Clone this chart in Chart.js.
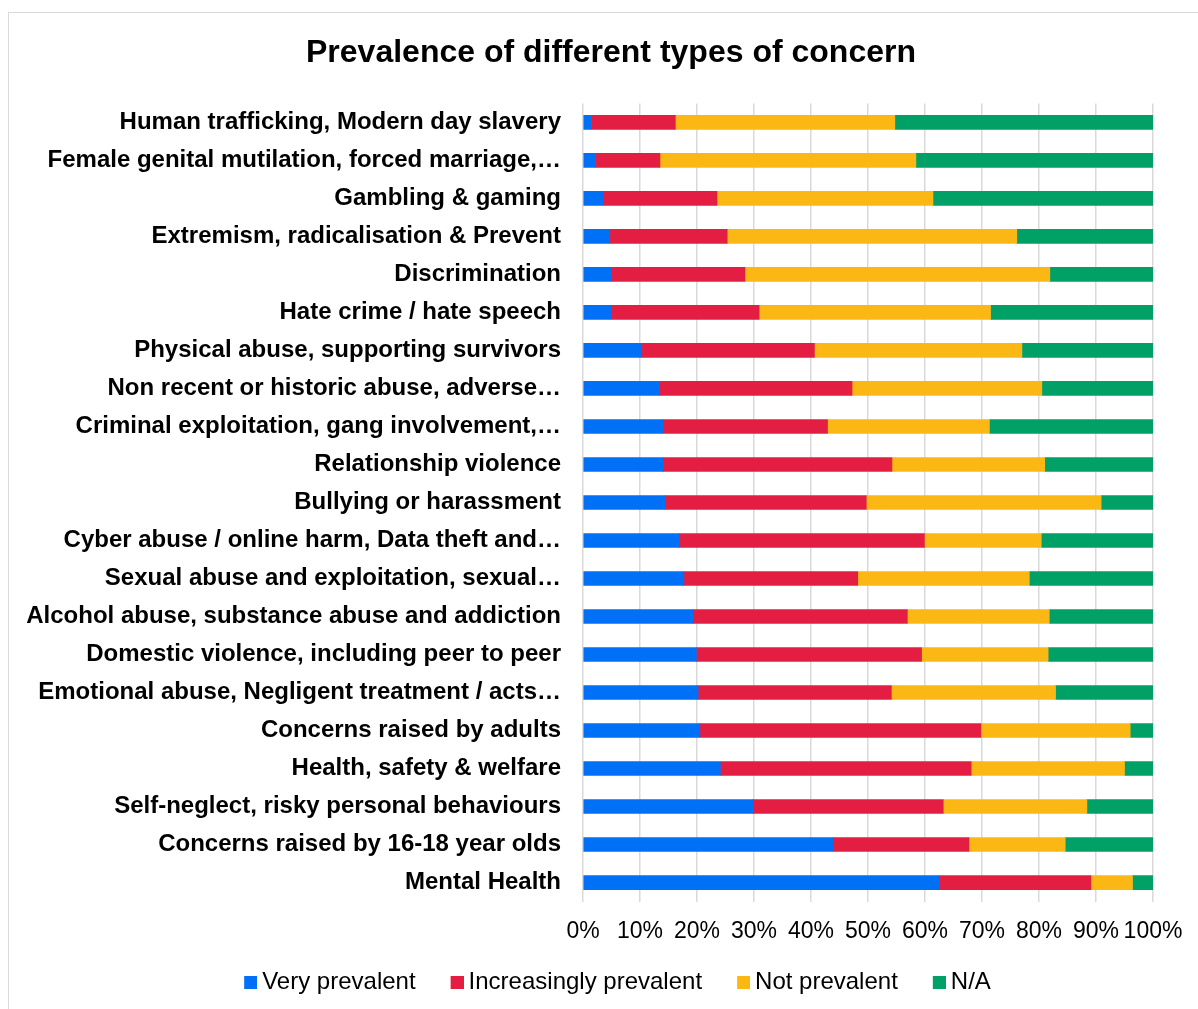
<!DOCTYPE html>
<html>
<head>
<meta charset="utf-8">
<title>Prevalence of different types of concern</title>
<script src="https://cdn.jsdelivr.net/npm/chart.js@4.4.0/dist/chart.umd.min.js"></script>
<style>
  html, body { margin: 0; padding: 0; background: #fff; overflow: hidden; }
  #wrap {
    position: absolute; left: 8px; top: 12px;
    width: 1204px; height: 1004px;
    border-left: 1px solid #d9d9d9; border-top: 1px solid #d9d9d9;
  }
</style>
</head>
<body>
<div id="wrap"><canvas id="concern-chart"></canvas></div>
<script>
// categories, top row first
const categories = [
  'Human trafficking, Modern day slavery',
  'Female genital mutilation, forced marriage,\u2026',
  'Gambling & gaming',
  'Extremism, radicalisation & Prevent',
  'Discrimination',
  'Hate crime / hate speech',
  'Physical abuse, supporting survivors',
  'Non recent or historic abuse, adverse\u2026',
  'Criminal exploitation, gang involvement,\u2026',
  'Relationship violence',
  'Bullying or harassment',
  'Cyber abuse / online harm, Data theft and\u2026',
  'Sexual abuse and exploitation, sexual\u2026',
  'Alcohol abuse, substance abuse and addiction',
  'Domestic violence, including peer to peer',
  'Emotional abuse, Negligent treatment / acts\u2026',
  'Concerns raised by adults',
  'Health, safety & welfare',
  'Self-neglect, risky personal behaviours',
  'Concerns raised by 16-18 year olds',
  'Mental Health'
];

// % of responses per category
const veryPrevalent =         [1.5, 2.2, 3.5, 4.7, 4.9, 4.9, 10.3, 13.4, 14.0, 14.1, 14.5, 16.9, 17.7, 19.3, 19.9, 20.2, 20.5, 24.1, 29.8, 43.9, 62.4];
const increasinglyPrevalent = [14.7, 11.3, 20.0, 20.6, 23.5, 26.0, 30.3, 33.8, 28.9, 40.1, 35.2, 43.0, 30.5, 37.6, 39.5, 33.9, 49.3, 44.0, 33.4, 23.8, 26.7];
const notPrevalent =          [38.5, 44.9, 37.9, 50.8, 53.5, 40.6, 36.4, 33.3, 28.4, 26.8, 41.2, 20.5, 30.1, 24.9, 22.2, 28.8, 26.2, 26.9, 25.2, 16.9, 7.3];
const notApplicable =         [45.3, 41.6, 38.6, 23.9, 18.1, 28.5, 23.0, 19.5, 28.7, 19.0, 9.1, 19.6, 21.7, 18.2, 18.4, 17.1, 4.0, 5.0, 11.6, 15.4, 3.6];

const seriesNames = ['Very prevalent', 'Increasingly prevalent', 'Not prevalent', 'N/A'];
const seriesColors = ['#0070f6', '#e41e43', '#fbb814', '#00a067'];
const seriesData = [veryPrevalent, increasinglyPrevalent, notPrevalent, notApplicable];

const FONT = '"Liberation Sans", Arial, sans-serif';

// legend marker: 13px square sitting at the right end of a wider transparent strip,
// so the strip acts as spacing between legend entries
const MARK_W = 33;
function legendMark(color) {
  const c = document.createElement('canvas');
  c.width = MARK_W + 14;
  c.height = 13;
  const ctx = c.getContext('2d');
  ctx.fillStyle = color;
  ctx.fillRect(c.width - 13, 0, 13, 13);
  return c;
}
const legendMarks = seriesColors.map(legendMark);

// pull the legend row a little to the left (the first strip adds blank space on its left)
const legendNudge = {
  id: 'legendNudge',
  afterLayout(chart) {
    chart.legend.left -= 7;
    chart.legend.right -= 7;
  }
};

const datasets = seriesNames.map((name, i) => ({
  label: name,
  data: seriesData[i],
  backgroundColor: seriesColors[i],
  borderWidth: 0,
  barThickness: 14
}));

new Chart(document.getElementById('concern-chart'), {
  type: 'bar',
  data: { labels: categories, datasets: datasets },
  plugins: [legendNudge],
  options: {
    indexAxis: 'y',
    responsive: true,
    maintainAspectRatio: false,
    animation: false,
    layout: { padding: { left: 0, right: 0, top: 0, bottom: 13 } },
    plugins: {
      title: {
        display: true,
        text: 'Prevalence of different types of concern',
        color: '#000',
        font: { family: FONT, size: 32, weight: 'bold' },
        padding: { top: 21, bottom: 31 }
      },
      legend: {
        position: 'bottom',
        labels: {
          color: '#000',
          font: { family: FONT, size: 24 },
          usePointStyle: true,
          pointStyleWidth: MARK_W,
          boxHeight: 13,
          padding: 8,
          generateLabels: chart =>
            Chart.defaults.plugins.legend.labels.generateLabels(chart)
              .map((item, i) => ({ ...item, pointStyle: legendMarks[i] }))
        }
      },
      tooltip: { enabled: false }
    },
    scales: {
      x: {
        stacked: true,
        min: 0,
        max: 100,
        ticks: {
          stepSize: 10,
          padding: 17,
          maxRotation: 0,
          minRotation: 0,
          autoSkip: false,
          color: '#000',
          font: { family: FONT, size: 23, lineHeight: 1.15 },
          callback: v => v + '%'
        },
        grid: { color: '#d9d9d9', lineWidth: 1.5, drawTicks: false },
        border: { display: false }
      },
      y: {
        stacked: true,
        ticks: {
          padding: 22,
          color: '#000',
          autoSkip: false,
          font: { family: FONT, size: 24, weight: 'bold' }
        },
        grid: { display: false, drawTicks: false },
        border: { display: false },
        afterFit: scale => { scale.width = 574; }
      },
      // empty strip on the right of the plot
      gutter: {
        type: 'category',
        position: 'right',
        grid: { display: false, drawTicks: false },
        border: { display: false },
        ticks: { display: false },
        afterFit: scale => { scale.width = 60; }
      }
    }
  }
});
</script>
</body>
</html>
